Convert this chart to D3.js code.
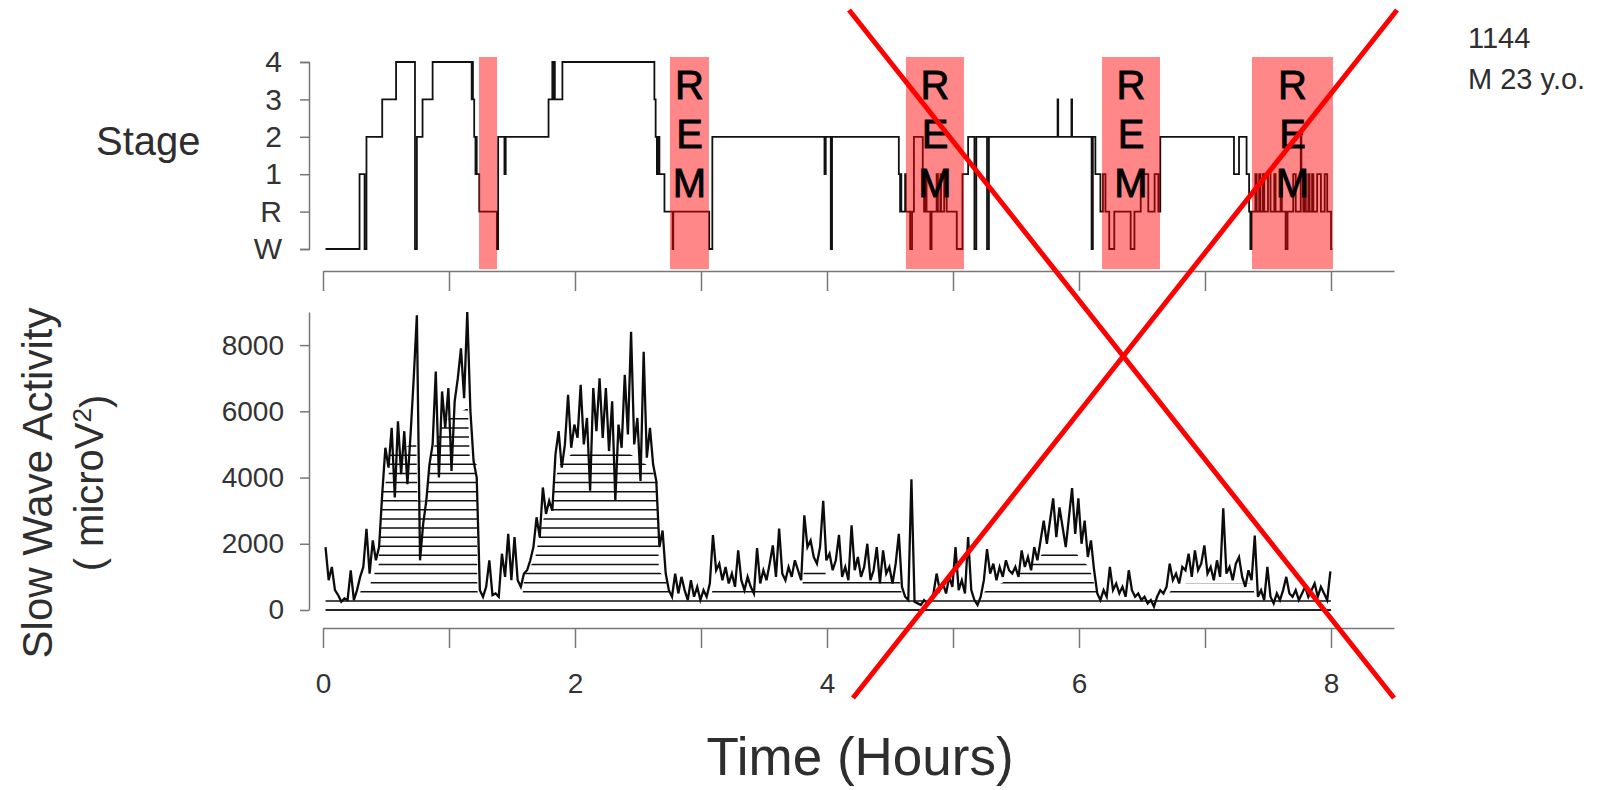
<!DOCTYPE html>
<html>
<head>
<meta charset="utf-8">
<script src="https://cdn.jsdelivr.net/npm/d3@7"></script>
<style>
  body { margin: 0; background: #fff; }
  text { font-family: "Liberation Sans", Arial, sans-serif; fill: #2e2e2e; }
</style>
</head>
<body>
<div id="chart"></div>
<script>
// ---- data ----
var stageOrder = ["W", "R", "1", "2", "3", "4"];

// [hour, stage] at each change of stage
var hypnogram = [
  [0.02,"W"],[0.29,"1"],[0.33,"W"],[0.345,"2"],[0.47,"3"],[0.58,"4"],[0.73,"W"],[0.745,"2"],
  [0.79,"3"],[0.87,"4"],[1.18,"3"],[1.185,"4"],[1.19,"3"],[1.20,"2"],[1.21,"1"],[1.215,"2"],
  [1.22,"1"],[1.24,"R"],[1.38,"W"],[1.39,"2"],[1.44,"1"],[1.45,"2"],[1.79,"3"],[1.82,"4"],
  [1.83,"3"],[1.835,"4"],[1.84,"3"],[1.90,"4"],[2.63,"3"],[2.64,"2"],[2.65,"1"],[2.655,"2"],
  [2.66,"1"],[2.665,"2"],[2.67,"1"],[2.71,"R"],[2.775,"W"],[2.78,"R"],[3.065,"W"],[3.09,"2"],
  [3.98,"1"],[3.99,"2"],[4.03,"W"],[4.04,"2"],[4.57,"1"],[4.58,"R"],[4.585,"1"],[4.59,"R"],
  [4.62,"1"],[4.625,"R"],[4.66,"W"],[4.675,"R"],[4.69,"2"],[4.76,"1"],[4.77,"R"],[4.78,"1"],
  [4.79,"R"],[4.82,"W"],[4.83,"R"],[4.87,"1"],[4.88,"R"],[4.90,"1"],[4.905,"R"],[4.93,"1"],
  [4.95,"R"],[5.03,"W"],[5.075,"1"],[5.12,"2"],[5.17,"W"],[5.185,"2"],[5.27,"W"],[5.285,"2"],
  [5.83,"3"],[5.835,"2"],[5.94,"3"],[5.945,"2"],[6.10,"W"],[6.11,"2"],[6.13,"1"],[6.17,"R"],
  [6.19,"1"],[6.21,"R"],[6.24,"W"],[6.28,"R"],[6.41,"W"],[6.44,"R"],[6.49,"1"],[6.55,"R"],
  [6.60,"1"],[6.63,"R"],[6.645,"2"],[7.23,"1"],[7.27,"2"],[7.33,"1"],[7.35,"R"],[7.36,"W"],
  [7.37,"R"],[7.40,"1"],[7.41,"R"],[7.43,"1"],[7.44,"R"],[7.46,"1"],[7.47,"R"],[7.50,"1"],
  [7.52,"R"],[7.55,"1"],[7.56,"R"],[7.60,"1"],[7.61,"R"],[7.64,"W"],[7.655,"R"],[7.70,"1"],
  [7.72,"R"],[7.76,"2"],[7.765,"1"],[7.78,"R"],[7.79,"1"],[7.80,"R"],[7.82,"1"],[7.83,"R"],
  [7.85,"1"],[7.86,"R"],[7.89,"1"],[7.92,"R"],[7.95,"1"],[7.97,"R"],[8.00,"W"],[8.01,"W"]
];

// REM periods [start hour, end hour] and whether the band carries the "REM" label
var remPeriods = [[1.238, 1.381], [2.754, 3.063], [4.627, 5.087], [6.183, 6.643], [7.373, 8.016]];
var remLabelled = [false, true, true, true, true];
var remLetters = ["R", "E", "M"];

// slow wave activity, one value every 1.5 min starting at 0.02 h
var swaStart = 0.02;
var swaStep = 0.025;
var swaValues = [
  1900, 900, 1300, 600, 450, 250, 350, 300, 1200, 300, 600, 1000, 1300, 2450, 1100, 2100, 1500, 1900, 3500, 4900,
  4300, 5500, 3400, 5700, 4100, 5400, 3800, 5300, 7000, 8900, 1500, 2600, 3300, 4400, 5000, 7200, 4000, 6600, 5500, 6700,
  4200, 6300, 7000, 7900, 6400, 9000, 6000, 4500, 4000, 600, 400, 700, 1500, 450, 500, 400, 1700, 1000, 2300, 900,
  2200, 900, 700, 1100, 1200, 1500, 1900, 2800, 2200, 3700, 2900, 3300, 3000, 4700, 5400, 4300, 5000, 6500, 4900, 5600,
  5200, 6800, 5000, 5800, 3600, 6700, 5400, 7000, 5200, 6700, 4800, 6300, 3300, 5600, 4900, 7100, 5300, 8400, 5000, 5800,
  3900, 7800, 4600, 5500, 4400, 3900, 1900, 2400, 1100, 600, 400, 1100, 500, 1000, 600, 300, 900, 400, 700, 300,
  600, 400, 800, 2260, 1200, 1400, 900, 1300, 800, 1100, 700, 1800, 900, 600, 1000, 700, 500, 1870, 800, 1200,
  900, 1400, 1950, 1000, 2460, 1100, 900, 1300, 1000, 1500, 1200, 900, 2860, 1900, 2100, 1600, 1400, 1900, 3300, 1500,
  1700, 1200, 1500, 2270, 1000, 1300, 900, 2560, 1200, 1600, 1000, 1300, 2000, 900, 1200, 1900, 800, 1800, 1100, 1300,
  800, 1400, 2300, 700, 400, 300, 3950, 250, 200, 150, 300, 200, 250, 500, 1100, 600, 800, 500, 1000, 700,
  1900, 600, 900, 500, 2200, 600, 300, 150, 400, 900, 1840, 1100, 1400, 900, 1300, 1000, 1500, 1200, 1100, 1300,
  1000, 1800, 1300, 1600, 1200, 1900, 1500, 2100, 2700, 2000, 2700, 3370, 2200, 3100, 2500, 1900, 2800, 3680, 2300, 3370,
  2000, 2700, 1600, 2100, 1200, 500, 300, 600, 400, 1300, 600, 800, 500, 700, 400, 1200, 600, 400, 500, 300,
  400, 200, 300, 100, 400, 600, 500, 700, 1400, 900, 1100, 800, 1300, 1200, 1700, 1000, 1800, 1200, 1400, 1950,
  1100, 1300, 900, 1500, 1000, 3070, 1100, 1300, 900, 1400, 1600, 1000, 700, 1200, 900, 2250, 400, 600, 300, 1300,
  400, 200, 500, 300, 600, 1000, 500, 400, 600, 300, 500, 700, 400, 600, 800, 400, 700, 500, 300, 1170
];

// outline [hour, level] of the horizontally hatched area under the curve
var hatchTop = [
  [0.02,300],[0.28,300],[0.30,600],[0.37,600],[0.38,850],[0.40,850],[0.41,1150],[0.44,1150],
  [0.45,2500],[0.465,2500],[0.47,3600],[0.49,3600],[0.50,4000],[0.52,4000],[0.53,4700],[0.60,4800],
  [0.74,5100],[0.75,3300],[0.83,3300],[0.845,4500],[0.93,5500],[1.0,5800],[1.15,6100],[1.165,4600],
  [1.22,4400],[1.225,600],[1.24,300],
  [1.58,300],[1.60,1100],[1.68,1500],[1.72,2300],[1.76,2900],[1.81,3000],[1.83,3800],[1.88,4400],
  [2.0,4800],[2.4,4800],[2.6,4300],[2.655,3900],[2.665,1200],[2.72,900],[2.75,600],[2.76,300],
  [3.08,300],[3.09,600],[3.8,600],[3.82,1300],[3.98,1300],[4.0,850],[4.58,850],[4.6,300],
  [5.24,300],[5.25,550],[5.38,800],[5.5,1050],[5.62,1350],[5.70,1650],[5.74,1900],[5.95,1900],
  [6.0,1600],[6.08,1300],[6.12,800],[6.14,550],[6.15,300],
  [6.70,300],[6.72,550],[6.85,800],[7.36,800],[7.39,550],[7.40,300],[8.0,300]
];
var hatchStep = 275;

var swaTicks = [0, 2000, 4000, 6000, 8000];
var hourTicks = [0, 1, 2, 3, 4, 5, 6, 7, 8];
var hourLabels = [0, 2, 4, 6, 8];
var subjectInfo = ["1144", "M 23 y.o."];

// the red cross drawn over the figure: [hour at top, hour at bottom]
var crossOut = [[4.175, 8.50], [8.524, 4.206]];

// ---- layout ----
var svgWidth = 1619;
var svgHeight = 790;
var axisX = 309;
var stageAxisY = 271;
var swaAxisY = 628;
var crossTop = 10;
var crossBottom = 698;

var svg = d3.select("#chart")
    .append("svg")
    .attr("width", svgWidth)
    .attr("height", svgHeight);

svg.append("rect")
    .attr("width", svgWidth)
    .attr("height", svgHeight)
    .attr("fill", "#fff");

var x = d3.scaleLinear().domain([0, 8.5]).range([323, 1394]);
var yStage = d3.scalePoint().domain(stageOrder).range([249, 62]);
var ySwa = d3.scaleLinear().domain([0, 9000]).range([610, 312]);

// ---- stage panel ----
var stageAxis = svg.append("g")
    .attr("transform", `translate(${axisX},0)`)
    .call(d3.axisLeft(yStage).tickSize(9).tickPadding(18));

var topAxis = svg.append("g")
    .attr("transform", `translate(0,${stageAxisY})`)
    .call(d3.axisBottom(x).tickValues(hourTicks).tickSize(20).tickSizeOuter(0).tickFormat(""));

svg.append("path")
    .datum(hypnogram)
    .attr("fill", "none")
    .attr("stroke", "#111")
    .attr("stroke-width", 1.8)
    .attr("d", d3.line()
        .curve(d3.curveStepAfter)
        .x(d => x(d[0]))
        .y(d => yStage(d[1])));

var bandTop = yStage("4") - 5;
var bandBottom = stageAxisY - 2;

svg.selectAll(".rem")
    .data(remPeriods)
    .enter()
    .append("rect")
    .attr("class", "rem")
    .attr("x", d => x(d[0]))
    .attr("width", d => x(d[1]) - x(d[0]))
    .attr("y", bandTop)
    .attr("height", bandBottom - bandTop)
    .attr("fill", "#ff0000")
    .attr("fill-opacity", 0.47);

remPeriods.forEach(function(p, i) {
    if (!remLabelled[i]) return;
    remLetters.forEach(function(letter, j) {
        svg.append("text")
            .attr("x", (x(p[0]) + x(p[1])) / 2)
            .attr("y", 99 + j * 49)
            .attr("text-anchor", "middle")
            .style("font-size", "40px")
            .style("fill", "#000")
            .style("stroke", "#000")
            .style("stroke-width", 0.8)
            .text(letter);
    });
});

svg.append("text")
    .attr("x", 96)
    .attr("y", 155)
    .style("font-size", "40px")
    .text("Stage");

// ---- slow wave activity panel ----
var swaData = swaValues.map((v, i) => [swaStart + i * swaStep, v]);

svg.append("defs")
    .append("clipPath")
    .attr("id", "hatchClip")
    .append("path")
    .datum(hatchTop)
    .attr("d", d3.area()
        .x(d => x(d[0]))
        .y0(ySwa(0))
        .y1(d => ySwa(d[1])));

svg.append("g")
    .attr("clip-path", "url(#hatchClip)")
    .selectAll("line")
    .data(d3.range(hatchStep, 6200, hatchStep))
    .enter()
    .append("line")
    .attr("x1", x(0))
    .attr("x2", x(8.1))
    .attr("y1", d => ySwa(d))
    .attr("y2", d => ySwa(d))
    .attr("stroke", "#111")
    .attr("stroke-width", 1.5);

svg.append("line")
    .attr("x1", x(swaStart))
    .attr("x2", x(8))
    .attr("y1", ySwa(0))
    .attr("y2", ySwa(0))
    .attr("stroke", "#222")
    .attr("stroke-width", 2.2);

svg.append("path")
    .datum(swaData)
    .attr("fill", "none")
    .attr("stroke", "#0c0c0c")
    .attr("stroke-width", 2.3)
    .attr("stroke-linejoin", "miter")
    .attr("d", d3.line()
        .x(d => x(d[0]))
        .y(d => ySwa(d[1])));

var swaAxis = svg.append("g")
    .attr("transform", `translate(${axisX},0)`)
    .call(d3.axisLeft(ySwa).tickValues(swaTicks).tickSize(9).tickSizeOuter(0).tickPadding(16)
        .tickFormat(d3.format("d")));

var bottomAxis = svg.append("g")
    .attr("transform", `translate(0,${swaAxisY})`)
    .call(d3.axisBottom(x).tickValues(hourTicks).tickSize(20).tickSizeOuter(0).tickPadding(25)
        .tickFormat(d => hourLabels.includes(d) ? d : ""));

[stageAxis, topAxis, swaAxis, bottomAxis].forEach(function(g) {
    g.selectAll("path, line").attr("stroke", "#777").attr("stroke-width", 1.5);
    g.selectAll("text").style("fill", "#333").attr("font-family", null);
});
stageAxis.selectAll("text").style("font-size", "30px");
swaAxis.selectAll("text").style("font-size", "28px");
bottomAxis.selectAll("text").style("font-size", "28px");

svg.append("text")
    .attr("transform", "translate(52,483) rotate(-90)")
    .attr("text-anchor", "middle")
    .style("font-size", "42px")
    .text("Slow Wave Activity");

var unitLabel = svg.append("text")
    .attr("transform", "translate(103,483) rotate(-90)")
    .attr("text-anchor", "middle")
    .style("font-size", "40px")
    .text("( microV");
unitLabel.append("tspan")
    .attr("dy", "-0.45em")
    .style("font-size", "26px")
    .text("2");
unitLabel.append("tspan")
    .attr("dy", "0.45em")
    .text(")");

svg.append("text")
    .attr("x", 860)
    .attr("y", 775)
    .attr("text-anchor", "middle")
    .style("font-size", "53px")
    .text("Time (Hours)");

svg.selectAll(".info")
    .data(subjectInfo)
    .enter()
    .append("text")
    .attr("class", "info")
    .attr("x", 1468)
    .attr("y", (d, i) => 48 + i * 41)
    .style("font-size", "29px")
    .text(d => d);

// red cross on top
svg.selectAll(".cross")
    .data(crossOut)
    .enter()
    .append("line")
    .attr("class", "cross")
    .attr("x1", d => x(d[0]))
    .attr("y1", crossTop)
    .attr("x2", d => x(d[1]))
    .attr("y2", crossBottom)
    .attr("stroke", "#f00")
    .attr("stroke-width", 5);
</script>
</body>
</html>
